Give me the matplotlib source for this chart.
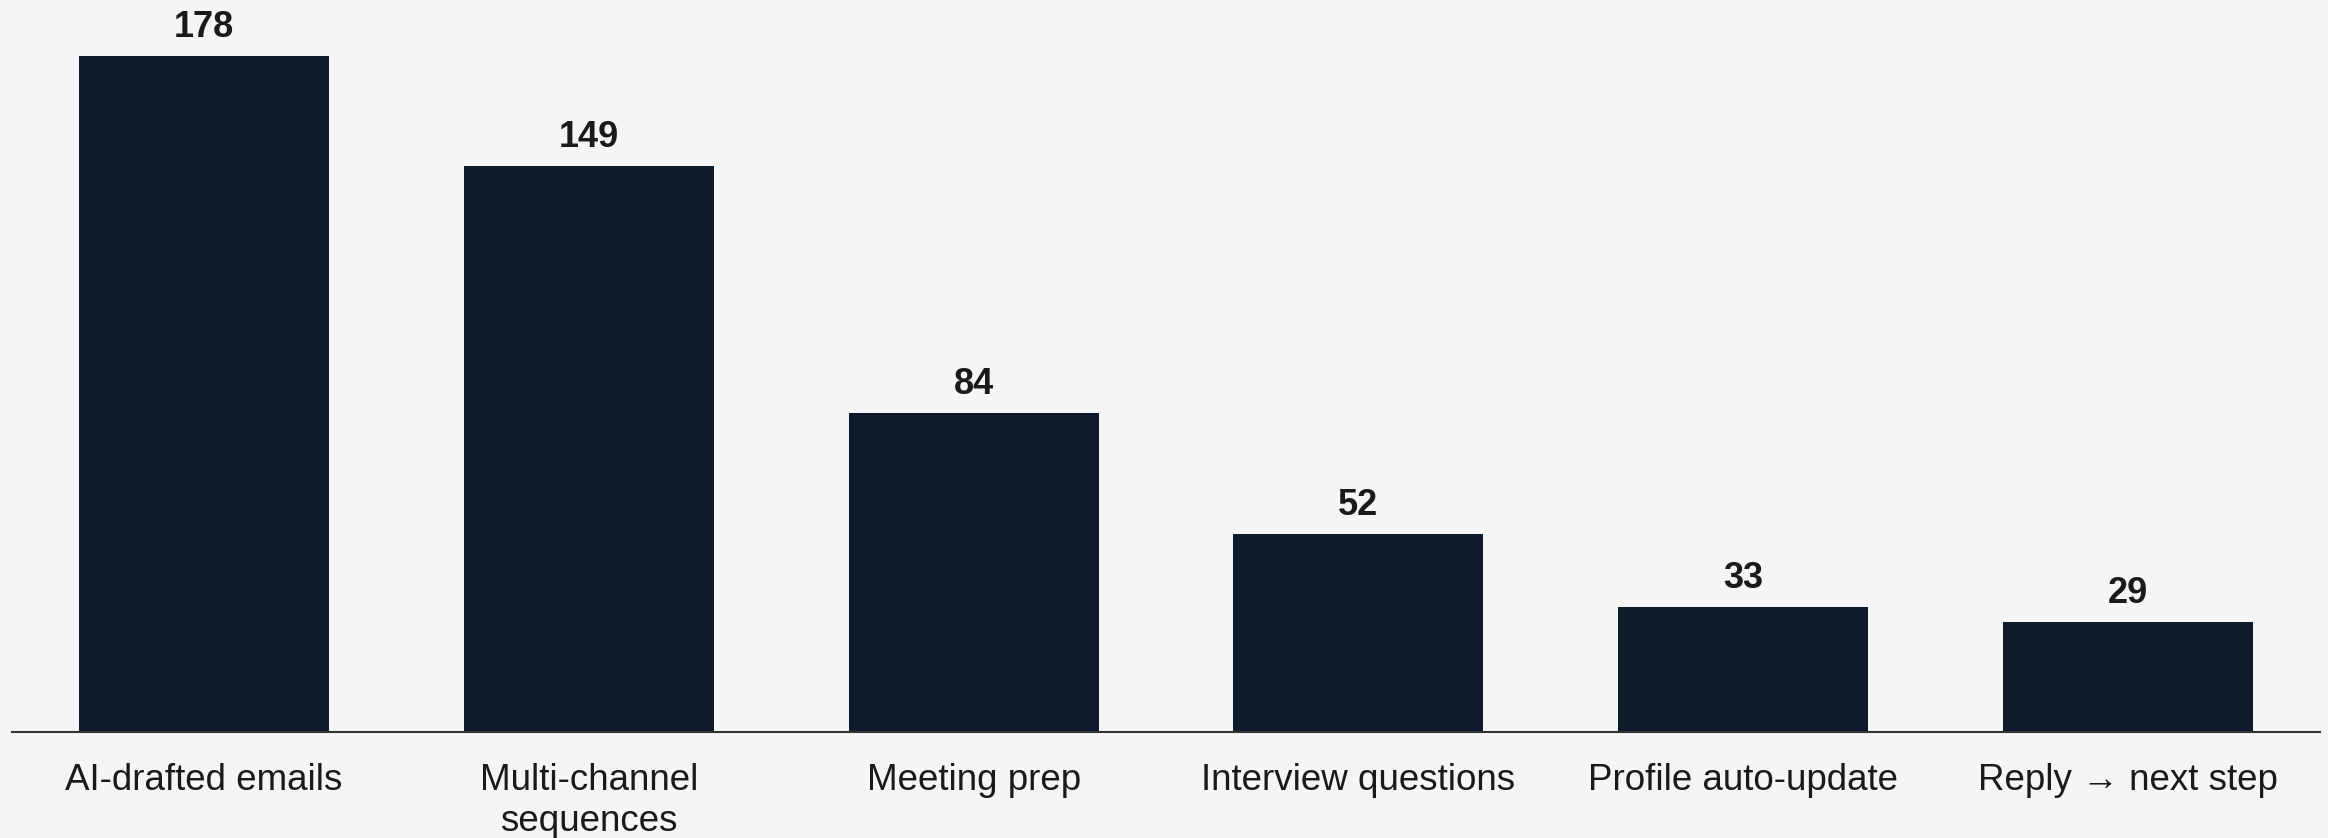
import matplotlib.pyplot as plt

# dane
categories = ['AI-drafted emails', 'Multi-channel\nsequences', 'Meeting prep',
              'Interview questions', 'Profile auto-update', 'Reply \u2192 next step']
values = [178, 149, 84, 52, 33, 29]

plt.rcParams['font.family'] = ['Liberation Sans', 'DejaVu Sans']

fig = plt.figure(figsize=(23.28, 8.38), dpi=100, facecolor='#f5f5f5')
ax = fig.add_axes([0.005, 1 - 732 / 838, 0.9917, 732 / 838])
ax.set_facecolor('#f5f5f5')

x = range(len(categories))
bars = ax.bar(x, values, width=0.65, color='#0d1b2a')

# etykiety wartości nad słupkami
for b, v in zip(bars, values):
    ax.annotate(str(v), (b.get_x() + b.get_width() / 2, v),
                xytext=(0, 8), textcoords='offset points',
                ha='center', va='bottom', fontsize=26, fontweight='bold',
                color='#1a1a1a')

ax.set_xlim(-0.5, len(categories) - 0.5)
ax.set_ylim(0, 192.7)
ax.set_xticks(list(x))
ax.set_xticklabels(categories, fontsize=26.5, color='#1a1a1a', linespacing=1.25)
ax.tick_params(axis='x', length=0, pad=22)
ax.set_yticks([])

for s in ['top', 'right', 'left']:
    ax.spines[s].set_visible(False)
ax.spines['bottom'].set_color('#333333')
ax.spines['bottom'].set_linewidth(1.5)

fig.savefig('out.png', dpi=100, facecolor=fig.get_facecolor())
